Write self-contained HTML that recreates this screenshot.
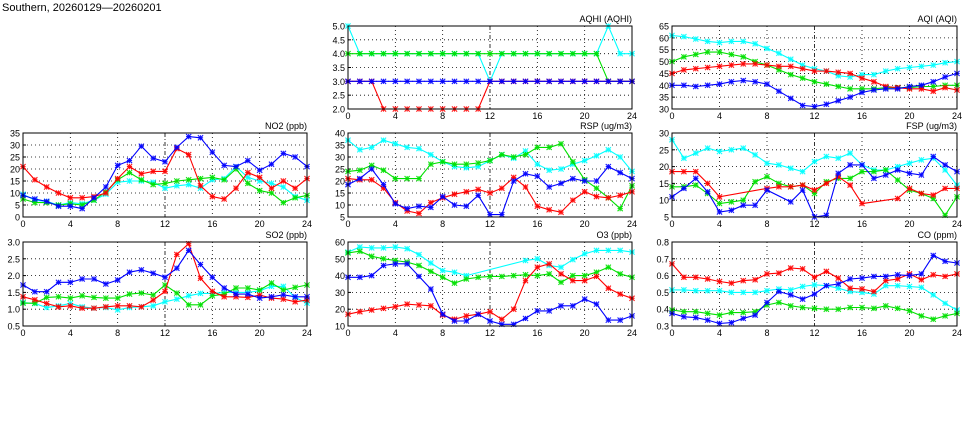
<!DOCTYPE html>
<html><head><meta charset="utf-8">
<style>
html,body{margin:0;padding:0;background:#fff;}
svg{display:block;font-family:"Liberation Sans",sans-serif;}
</style></head>
<body>
<svg id="chart" width="975" height="447" viewBox="0 0 975 447" xmlns="http://www.w3.org/2000/svg">
<text x="2" y="11" font-size="11" fill="#000">Southern, 20260129—20260201</text>
</svg>
<script>
const hours = [0,1,2,3,4,5,6,7,8,9,10,11,12,13,14,15,16,17,18,19,20,21,22,23,24];
const xTicks = [0,4,8,12,16,20,24];
const seriesColors = ["#0000ff","#ff0000","#00e000","#00ffff"];
const seriesNames = ["blue","red","green","cyan"];
const drawOrder = [3,2,1,0];

const aqhiBlue = [3,3,3,3,3,3,3,3,3,3,3,3,3,3,3,3,3,3,3,3,3,3,3,3,3];
const aqhiRed = [3,3,3,2,2,2,2,2,2,2,2,2,3,3,3,3,3,3,3,3,3,3,3,3,3];
const aqhiGreen = [4,4,4,4,4,4,4,4,4,4,4,4,4,4,4,4,4,4,4,4,4,4,3,3,3];
const aqhiCyan = [5,4,4,4,4,4,4,4,4,4,4,4,3,4,4,4,4,4,4,4,4,4,5,4,4];
const aqhiTicks = [2.0,2.5,3.0,3.5,4.0,4.5,5.0];

const aqiBlue = [40,40,39.5,40,40.5,41.5,42,41.5,40.5,37.5,34.5,31.5,31,32,33.5,35,37,38,38.5,38.5,39.5,40,41.5,43.5,45];
const aqiRed = [45,46.5,47,47.5,48,48.5,49,49,48.5,48,48,47,46,46,45.5,45,43,41.5,39.5,39,38.5,38.5,37.5,39,38];
const aqiGreen = [50,52,53,54,54,53,52,50,48.5,46.5,44.5,43,41.5,40.5,39.5,38.5,38.5,38.5,39,39,39,39.5,39.5,40,40];
const aqiCyan = [61,60.5,59.5,58.5,58,58.5,58.5,57.5,55.5,53.5,51,48.5,47,46,44,43.5,44.5,44.5,46,47,47.5,48,48.5,49.5,50];
const aqiTicks = [30,35,40,45,50,55,60,65];

const no2Blue = [9,7.5,6.5,4.5,4.5,3.5,8,12.5,21.5,23.5,29.5,24.5,23,29,33.5,33,27,21.5,21,23.5,19.5,22,26.5,25,21];
const no2Red = [21,15.5,12.5,10,8,8,8.5,10,16,21,18,19,19,28.5,26,13,8.5,7.5,12,18.5,16.5,12,15,12,16];
const no2Green = [7.5,6,6,5,5.5,5,7,10.5,15.5,18.5,15.5,13.5,14,15,15.5,16,16.5,15.5,20,14,11,10,6,8,9];
const no2Cyan = [9.5,7,6.5,5,6,5.5,7,9.5,14.5,15,15,14.5,12,13,13.5,12,15.5,16,21,16.5,15,14,12.5,8.5,7];
const no2Ticks = [0,5,10,15,20,25,30,35];

const rspBlue = [18.5,21,25,18.5,10.5,8.5,9.5,9,13.5,10,9.5,14,6,6,20,23,22,17.5,19,21,20,20,26,23.5,21];
const rspRed = [21,20.5,20.5,17,11,7.5,6.5,11,13,14.5,15.5,16.5,15,17,21.5,17.5,9.5,8,7,12,15.5,13.5,13,14,15.5];
const rspGreen = [24,24.5,26.5,24.5,21,21,21,27,28,27,27,27.5,28.5,31,30,31,34,34,35.5,28,20.5,17,13,8.5,18];
const rspCyan = [37,33,34,37,35.5,34,33.5,31,28,26,25.5,26,28.5,31,29.5,32.5,27,24.5,25,27,28.5,30.5,33,30,24];
const rspTicks = [5,10,15,20,25,30,35,40];

const fspBlue = [11,13.5,16.5,12.5,6.5,7,8.5,8.5,13,null,9.5,13,5,5.5,18,20.5,20.5,16.5,17.5,19,18,17.5,23,20.5,18.5];
const fspRed = [18.5,18.5,18.5,15,11,null,null,null,13.5,14,14,14.5,13,15,17,14.5,9,null,null,10.5,13.5,12,11.5,13.5,13.5];
const fspGreen = [14,14,14.5,12,9,9.5,10,15.5,17,15,14,14.5,12,15.5,16.5,16.5,18.5,18.5,19,16,13,12,10.5,5.5,11];
const fspCyan = [28,22.5,24,25.5,24.5,25,25.5,23.5,21,20.5,19.5,18.5,21.5,23,22.5,24,20.5,19,19,20,21,22,22.5,19,14.5];
const fspTicks = [5,10,15,20,25,30];

const so2Blue = [1.72,1.52,1.52,1.8,1.8,1.9,1.9,1.75,1.87,2.1,2.17,2.07,1.95,2.22,2.75,2.33,1.95,1.63,1.45,1.45,1.33,1.37,1.43,1.37,1.37];
const so2Red = [1.37,1.28,1.17,1.07,1.1,1.03,1.03,1.07,1.1,1.1,1.07,1.27,1.53,2.63,2.95,1.92,1.53,1.37,1.37,1.35,1.42,1.33,1.3,1.22,1.27];
const so2Green = [1.18,1.18,1.35,1.37,1.33,1.4,1.35,1.33,1.33,1.45,1.48,1.42,1.72,1.48,1.13,1.13,1.4,1.45,1.63,1.63,1.57,1.78,1.57,1.65,1.72];
const so2Cyan = [1.2,1.17,1.05,1.1,1.17,1.07,1.03,1.05,0.98,1.05,1.07,1.1,1.22,1.3,1.4,1.47,1.47,1.5,1.5,1.5,1.55,1.68,1.68,1.35,1.18];
const so2Ticks = [0.5,1.0,1.5,2.0,2.5,3.0];

const o3Blue = [39,39,40,46,47,47,39.5,32,17,13,13,17,13,11,11,14.5,19,19,22,22,26,23,13.5,13.5,16];
const o3Red = [17,18.5,19.5,20.5,21.5,23,22.5,22,16.5,14,16,17,18.5,14,20,37,45,47,41,37,37,39.5,32.5,29,26.5];
const o3Green = [53.5,54.5,51.5,50,49,48,46,42.5,39,35.5,38,39,39.5,39.5,40,40.5,40,41,36,40,40,42,45,41,39];
const o3Cyan = [54,57,56.5,56.5,57,56,52.5,47.5,43,42,40,null,null,null,null,49,50,46,45,49.5,53,55,55,55,54];
const o3Ticks = [10,20,30,40,50,60];

const coBlue = [0.375,0.355,0.35,0.335,0.315,0.32,0.345,0.365,0.44,0.505,0.485,0.46,0.49,0.54,0.55,0.58,0.585,0.595,0.595,0.605,0.6,0.61,0.72,0.685,0.675];
const coRed = [0.67,0.59,0.59,0.58,0.565,0.555,0.57,0.575,0.61,0.615,0.645,0.64,0.59,0.625,0.585,0.525,0.52,0.505,0.57,0.58,0.61,0.575,0.605,0.595,0.61];
const coGreen = [0.395,0.385,0.385,0.375,0.365,0.38,0.38,0.385,0.425,0.44,0.42,0.41,0.405,0.4,0.4,0.41,0.41,0.405,0.42,0.405,0.39,0.36,0.34,0.36,0.375];
const coCyan = [0.515,0.515,0.51,0.51,0.51,0.5,0.5,0.5,0.51,0.52,0.515,0.535,0.545,0.54,0.525,0.505,0.5,0.49,0.54,0.54,0.535,0.53,0.485,0.435,0.395];
const coTicks = [0.3,0.4,0.5,0.6,0.7,0.8];

const svg = document.getElementById('chart');
const NS = 'http://www.w3.org/2000/svg';
function mk(tag, attrs){ const e=document.createElementNS(NS,tag); for(const k in attrs) e.setAttribute(k,attrs[k]); svg.appendChild(e); return e; }

function panel(key, title, x0, x1, y0, y1, ticks, decimals, series){
  const ymin = ticks[0], ymax = ticks[ticks.length-1];
  const sx = h => x0 + (h/24)*(x1-x0);
  const sy = v => y1 - (v-ymin)/(ymax-ymin)*(y1-y0);
  ticks.forEach((t,i)=>{
    const y=sy(t);
    if(i>0 && i<ticks.length-1){
      const g=mk('line',{x1:x0,x2:x1,y1:y,y2:y,stroke:'#000','stroke-width':0.8,'stroke-dasharray':'1,3'});
      
      
    }
    const tk=mk('line',{x1:x0,x2:x0+3,y1:y,y2:y,stroke:'#000','stroke-width':1});
    
    
    const lb=mk('text',{x:x0-3,y:y+3.5,'font-size':9,'text-anchor':'end',fill:'#000'});
    lb.textContent = t.toFixed(decimals);
    
    
  });
  xTicks.forEach((t,i)=>{
    const x=sx(t);
    if(i>0 && i<xTicks.length-1){
      const g=mk('line',{x1:x,x2:x,y1:y0,y2:y1,stroke:'#000','stroke-width':0.8,'stroke-dasharray':t===12?'4,2,1,2':'1,3'});
      
      
    }
    const lb=mk('text',{x:x,y:y1+10,'font-size':9,'text-anchor':'middle',fill:'#000'});
    lb.textContent = String(t);
    
    
  });
  drawOrder.forEach(si=>{
    const vals=series[si];
    const col=seriesColors[si];
    let d='', started=false;
    vals.forEach((v,i)=>{
      if(v===null||v===undefined) return;
      d += (started?'L':'M') + sx(hours[i]).toFixed(1) + ',' + sy(v).toFixed(1);
      started=true;
    });
    const p=mk('path',{d:d,fill:'none',stroke:col,'stroke-width':1.1});
    
    
    vals.forEach((v,i)=>{
      if(v===null||v===undefined) return;
      const cx=sx(hours[i]), cy=sy(v), r=2.6;
      const m=mk('path',{d:`M${cx-r},${cy-r}L${cx+r},${cy+r}M${cx-r},${cy+r}L${cx+r},${cy-r}M${cx-r},${cy}L${cx+r},${cy}M${cx},${cy-r}L${cx},${cy+r}`,stroke:col,'stroke-width':1.1,'stroke-opacity':0.9});
      
      
    });
  });
  const box=mk('rect',{x:x0,y:y0,width:x1-x0,height:y1-y0,fill:'none',stroke:'#000','stroke-width':1});
  
  
  const tt=mk('text',{x:x1,y:y0-4,'font-size':9,'text-anchor':'end',fill:'#000'});
  tt.textContent = title;
  
  
}

const C1=[23,307], C2=[348,632], C3=[672,957];
const R1=[26,109], R2=[133,217], R3=[242,326];
panel('aqhi','AQHI (AQHI)',C2[0],C2[1],R1[0],R1[1],aqhiTicks,1,[aqhiBlue,aqhiRed,aqhiGreen,aqhiCyan]);
panel('aqi','AQI (AQI)',C3[0],C3[1],R1[0],R1[1],aqiTicks,0,[aqiBlue,aqiRed,aqiGreen,aqiCyan]);
panel('no2','NO2 (ppb)',C1[0],C1[1],R2[0],R2[1],no2Ticks,0,[no2Blue,no2Red,no2Green,no2Cyan]);
panel('rsp','RSP (ug/m3)',C2[0],C2[1],R2[0],R2[1],rspTicks,0,[rspBlue,rspRed,rspGreen,rspCyan]);
panel('fsp','FSP (ug/m3)',C3[0],C3[1],R2[0],R2[1],fspTicks,0,[fspBlue,fspRed,fspGreen,fspCyan]);
panel('so2','SO2 (ppb)',C1[0],C1[1],R3[0],R3[1],so2Ticks,1,[so2Blue,so2Red,so2Green,so2Cyan]);
panel('o3','O3 (ppb)',C2[0],C2[1],R3[0],R3[1],o3Ticks,0,[o3Blue,o3Red,o3Green,o3Cyan]);
panel('co','CO (ppm)',C3[0],C3[1],R3[0],R3[1],coTicks,1,[coBlue,coRed,coGreen,coCyan]);
</script>
</body></html>
